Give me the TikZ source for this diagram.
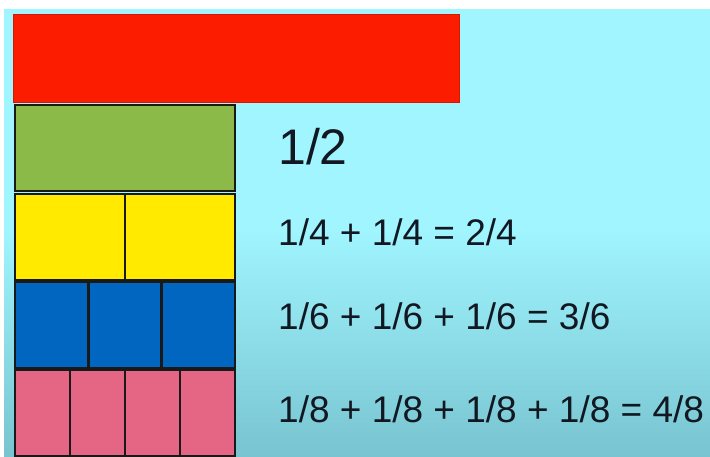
\documentclass[tikz,border=0pt]{standalone}
\usepackage{fontspec}
\setmainfont{Liberation Sans}
\usetikzlibrary{positioning}

\definecolor{skytop}{RGB}{160,245,255}
\definecolor{skybot}{RGB}{120,196,208}
\definecolor{barred}{RGB}{252,28,0}
\definecolor{bargreen}{RGB}{140,186,72}
\definecolor{baryellow}{RGB}{255,234,0}
\definecolor{barblue}{RGB}{0,102,192}
\definecolor{barpink}{RGB}{228,102,132}
\definecolor{inkdark}{RGB}{18,24,34}

\begin{document}
\begin{tikzpicture}[x=1pt, y=-1pt,
  bar/.style={draw=black!90, line width=2.5pt, inner sep=0pt, outer sep=0pt, anchor=north west, minimum height=86pt},
  sum/.style={anchor=base west, inner sep=0pt, text=inkdark, font=\fontsize{37}{44}\selectfont}]
  % page and background
  \useasboundingbox (0,0) rectangle (710,457);
  \fill[white] (0,0) rectangle (710,457);
  \fill[skytop] (4,9) rectangle (710,230);
  \shade[top color=skytop, bottom color=skybot] (4,229) rectangle (710,457);

  % whole
  \node[bar, draw=barred!85!black, line width=1pt, fill=barred, minimum width=446pt, minimum height=88pt] (whole) at (13,15) {};

  % halves
  \node[bar, fill=bargreen, minimum width=220pt] (half) at (15,105) {};

  % quarters
  \node[bar, fill=baryellow, minimum width=110pt] (q1) at (15,194) {};
  \node[bar, fill=baryellow, minimum width=110pt, right=0pt of q1.north east, anchor=north west] (q2) {};

  % sixths
  \node[bar, fill=barblue, minimum width=73.3pt] (s1) at (15,282) {};
  \node[bar, fill=barblue, minimum width=73.3pt, right=0pt of s1.north east, anchor=north west] (s2) {};
  \node[bar, fill=barblue, minimum width=73.3pt, right=0pt of s2.north east, anchor=north west] (s3) {};

  % eighths
  \node[bar, fill=barpink, minimum width=55pt] (e1) at (15,370) {};
  \node[bar, fill=barpink, minimum width=55pt, right=0pt of e1.north east, anchor=north west] (e2) {};
  \node[bar, fill=barpink, minimum width=55pt, right=0pt of e2.north east, anchor=north west] (e3) {};
  \node[bar, fill=barpink, minimum width=55pt, right=0pt of e3.north east, anchor=north west] (e4) {};

  % sums
  \node[sum, font=\fontsize{50}{60}\selectfont] (thalf) at (278,165) {1/2};
  \node[sum] (tquarter) at (278,246) {1/4 + 1/4 = 2/4};
  \node[sum] (tsixth) at (278,330) {1/6 + 1/6 + 1/6 = 3/6};
  \node[sum] (teighth) at (278,422) {1/8 + 1/8 + 1/8 + 1/8 = 4/8};
\end{tikzpicture}
\end{document}
